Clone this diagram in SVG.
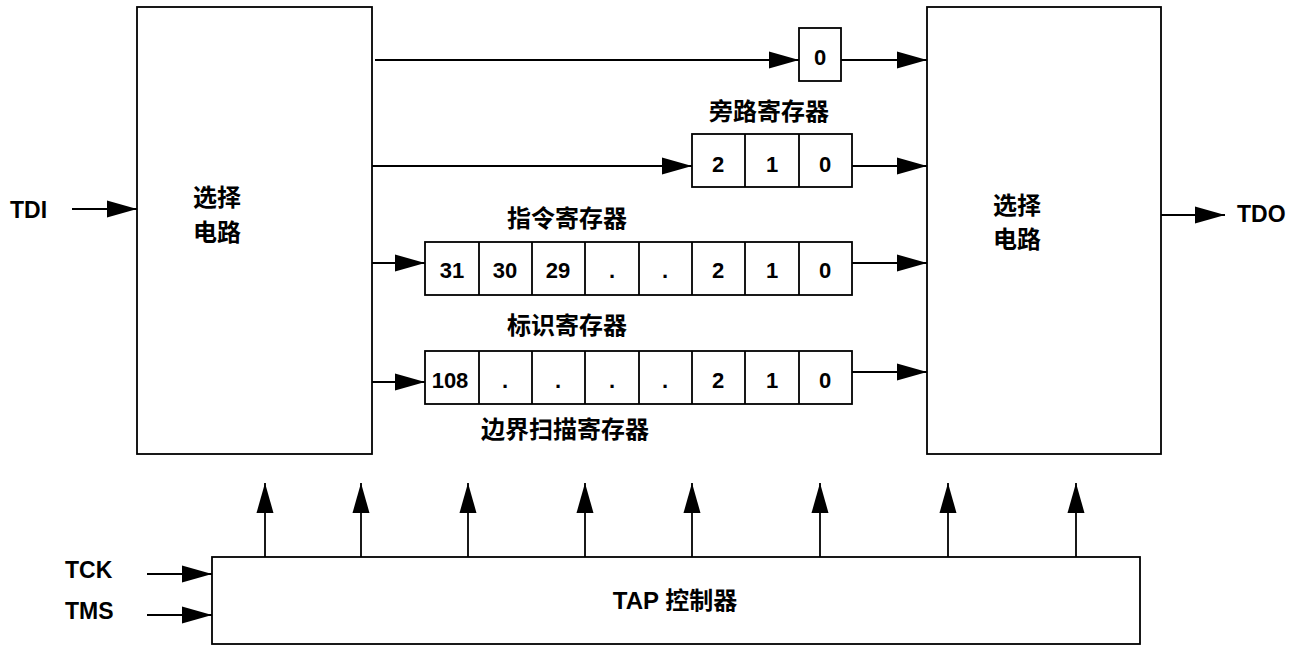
<svg xmlns="http://www.w3.org/2000/svg" width="1297" height="646" viewBox="0 0 1297 646">
<style>
.box{fill:#fff;stroke:#000;stroke-width:1.8}
.ln{fill:none;stroke:#000;stroke-width:1.8}
.t{font-family:"Liberation Sans",Arial,sans-serif;font-weight:bold;font-size:22px;fill:#000}
.l{font-size:23px}
.c{font-family:"Liberation Sans","Noto Sans CJK SC",sans-serif;font-weight:bold;font-size:24px;fill:#000}
.m{text-anchor:middle}
</style>
<defs>
<marker id="ah" markerUnits="userSpaceOnUse" markerWidth="30" markerHeight="18" refX="30" refY="8.5" orient="auto" overflow="visible">
<path d="M0,0 L30,8.5 L0,17 z" fill="#000"/>
</marker>
</defs>
<g id="sel-left">
<rect class="box" x="137" y="7" width="235" height="447"/>
<text class="c m" x="217" y="206">选择</text>
<text class="c m" x="217" y="241">电路</text>
</g>
<g id="sel-right">
<rect class="box" x="927" y="7" width="234" height="447"/>
<text class="c m" x="1017" y="214">选择</text>
<text class="c m" x="1017" y="248">电路</text>
</g>
<g id="tap">
<rect class="box" x="212" y="557" width="928" height="87"/>
<text class="c m" x="675" y="609">TAP 控制器</text>
</g>
<g id="reg-bypass1">
<rect class="box" x="799" y="28" width="42" height="53"/>
<text class="t m" x="820" y="65">0</text>
</g>
<g id="reg-bypass">
<rect class="box" x="692" y="134" width="160" height="53"/>
<path class="ln" d="M745,134V187M799,134V187"/>
<text class="t m" x="718" y="172">2</text>
<text class="t m" x="772" y="172">1</text>
<text class="t m" x="825" y="172">0</text>
<text class="c m" x="769" y="120">旁路寄存器</text>
</g>
<g id="reg-instr">
<rect class="box" x="425" y="242" width="427" height="53"/>
<path class="ln" d="M479,242V295M532,242V295M585,242V295M639,242V295M692,242V295M745,242V295M799,242V295"/>
<text class="t m" x="452" y="278">31</text>
<text class="t m" x="505" y="278">30</text>
<text class="t m" x="558" y="278">29</text>
<text class="t m" x="612" y="278">.</text>
<text class="t m" x="665" y="278">.</text>
<text class="t m" x="718" y="278">2</text>
<text class="t m" x="772" y="278">1</text>
<text class="t m" x="825" y="278">0</text>
<text class="c m" x="567" y="227">指令寄存器</text>
</g>
<g id="reg-boundary">
<rect class="box" x="425" y="351" width="427" height="53"/>
<path class="ln" d="M479,351V404M532,351V404M585,351V404M639,351V404M692,351V404M745,351V404M799,351V404"/>
<text class="t m" x="450" y="388">108</text>
<text class="t m" x="505" y="388">.</text>
<text class="t m" x="558" y="388">.</text>
<text class="t m" x="612" y="388">.</text>
<text class="t m" x="665" y="388">.</text>
<text class="t m" x="718" y="388">2</text>
<text class="t m" x="772" y="388">1</text>
<text class="t m" x="825" y="388">0</text>
<text class="c m" x="567" y="334">标识寄存器</text>
<text class="c m" x="565" y="438">边界扫描寄存器</text>
</g>
<g id="labels">
<text class="t l" x="10" y="218">TDI</text>
<text class="t l" x="1237" y="222">TDO</text>
<text class="t l" x="65" y="578">TCK</text>
<text class="t l" x="65" y="619">TMS</text>
</g>
<g id="connectors">
<line class="ln" x1="72" y1="209" x2="137" y2="209" marker-end="url(#ah)"/>
<line class="ln" x1="1161" y1="215" x2="1225" y2="215" marker-end="url(#ah)"/>
<line class="ln" x1="147" y1="574" x2="212" y2="574" marker-end="url(#ah)"/>
<line class="ln" x1="147" y1="615" x2="212" y2="615" marker-end="url(#ah)"/>
<line class="ln" x1="375" y1="60" x2="799" y2="60" marker-end="url(#ah)"/>
<line class="ln" x1="372" y1="166" x2="692" y2="166" marker-end="url(#ah)"/>
<line class="ln" x1="372" y1="263" x2="425" y2="263" marker-end="url(#ah)"/>
<line class="ln" x1="372" y1="382" x2="425" y2="382" marker-end="url(#ah)"/>
<line class="ln" x1="841" y1="60" x2="927" y2="60" marker-end="url(#ah)"/>
<line class="ln" x1="852" y1="166" x2="927" y2="166" marker-end="url(#ah)"/>
<line class="ln" x1="852" y1="263" x2="927" y2="263" marker-end="url(#ah)"/>
<line class="ln" x1="852" y1="372" x2="927" y2="372" marker-end="url(#ah)"/>
<line class="ln" x1="265" y1="557" x2="265" y2="483" marker-end="url(#ah)"/>
<line class="ln" x1="361" y1="557" x2="361" y2="483" marker-end="url(#ah)"/>
<line class="ln" x1="468" y1="557" x2="468" y2="483" marker-end="url(#ah)"/>
<line class="ln" x1="585" y1="557" x2="585" y2="483" marker-end="url(#ah)"/>
<line class="ln" x1="692" y1="557" x2="692" y2="483" marker-end="url(#ah)"/>
<line class="ln" x1="820" y1="557" x2="820" y2="483" marker-end="url(#ah)"/>
<line class="ln" x1="948" y1="557" x2="948" y2="483" marker-end="url(#ah)"/>
<line class="ln" x1="1076" y1="557" x2="1076" y2="483" marker-end="url(#ah)"/>
</g>
</svg>
